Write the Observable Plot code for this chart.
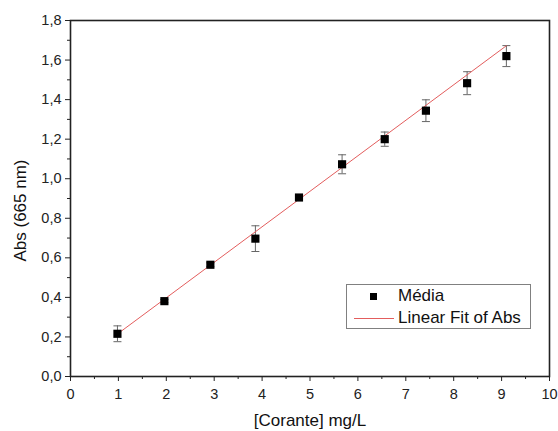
<!DOCTYPE html>
<html>
<head>
<meta charset="utf-8">
<script src="https://cdn.jsdelivr.net/npm/d3@7"></script>
<script src="https://cdn.jsdelivr.net/npm/@observablehq/plot@0.6"></script>
<style>
  body { margin: 0; background: #fff; }
  #wrap { position: relative; width: 558px; height: 431px; font-family: "Liberation Sans", Arial, sans-serif; }
  #legend { position: absolute; left: 346px; top: 284px; width: 183px; height: 43px; border: 1px solid #808080; background: #fff; }
  #legend .sq { position: absolute; left: 23px; top: 8px; width: 7px; height: 7px; background: #000; }
  #legend .ln { position: absolute; left: 7px; top: 33px; width: 40px; height: 0; border-top: 1px solid #e35d5d; }
  #legend .t { position: absolute; left: 51px; font-size: 17px; color: #111; line-height: 20px; white-space: nowrap; }
</style>
</head>
<body>
<div id="wrap">
  <div id="chart"></div>
  <div id="legend">
    <div class="sq"></div><div class="t" style="top:1px">Média</div>
    <div class="ln"></div><div class="t" style="top:23px">Linear Fit of Abs</div>
  </div>
</div>
<script>
const conc = [0.98, 1.96, 2.92, 3.86, 4.77, 5.67, 6.56, 7.42, 8.28, 9.10];
const absMean = [0.216, 0.381, 0.565, 0.697, 0.905, 1.073, 1.200, 1.344, 1.483, 1.620];
const absErr = [0.040, 0.008, 0.010, 0.065, 0.008, 0.048, 0.036, 0.055, 0.058, 0.053];
const fitSlope = 0.1795;
const fitIntercept = 0.039;
const fitRange = [0.98, 9.10];
const xTicks = [0, 1, 2, 3, 4, 5, 6, 7, 8, 9, 10];
const xMinorTicks = [0.5, 1.5, 2.5, 3.5, 4.5, 5.5, 6.5, 7.5, 8.5, 9.5];
const yTicks = [0, 0.2, 0.4, 0.6, 0.8, 1.0, 1.2, 1.4, 1.6, 1.8];
const yMinorTicks = [0.1, 0.3, 0.5, 0.7, 0.9, 1.1, 1.3, 1.5, 1.7];

const data = conc.map((x, i) => ({x, y: absMean[i], lo: absMean[i] - absErr[i], hi: absMean[i] + absErr[i]}));
const fmt = d => d.toFixed(1).replace(".", ",");
const fmtX = d => String(d);
const capSymbol = {draw(ctx, size) { const w = Math.sqrt(size / Math.PI); ctx.moveTo(-w, 0); ctx.lineTo(w, 0); }};

const chart = Plot.plot({
  width: 558,
  height: 431,
  marginLeft: 70,
  marginRight: 9,
  marginTop: 20,
  marginBottom: 55,
  style: {fontFamily: "'Liberation Sans', Arial, sans-serif", color: "#222", background: "#fff"},
  x: {domain: [0, 10]},
  y: {domain: [0, 1.8]},
  marks: [
    Plot.axisX(xTicks, {tickSize: 5, tickPadding: 7, tickFormat: fmtX, fontSize: 14.5, label: null, stroke: "#222"}),
    Plot.axisX(xMinorTicks, {tickSize: 3, tickFormat: () => "", label: null, stroke: "#222"}),
    Plot.axisY(yTicks, {tickSize: 5, tickPadding: 4, tickFormat: fmt, fontSize: 14.5, label: null, stroke: "#222"}),
    Plot.axisY(yMinorTicks, {tickSize: 3, tickFormat: () => "", label: null, stroke: "#222"}),
    Plot.text(["[Corante] mg/L"], {frameAnchor: "bottom", dy: 49, fontSize: 17, fill: "#111"}),
    Plot.text(["Abs (665 nm)"], {frameAnchor: "left", textAnchor: "middle", dx: -50, dy: 12, rotate: -90, fontSize: 17, fill: "#111"}),
    Plot.ruleX(data, {x: "x", y1: "lo", y2: "hi", stroke: "#666", strokeWidth: 1}),
    Plot.dot(data, {x: "x", y: "hi", symbol: capSymbol, r: 4, stroke: "#666", fill: "none", strokeWidth: 1}),
    Plot.dot(data, {x: "x", y: "lo", symbol: capSymbol, r: 4, stroke: "#666", fill: "none", strokeWidth: 1}),
    Plot.line(fitRange, {x: d => d, y: d => fitIntercept + fitSlope * d, stroke: "#e35d5d", strokeWidth: 1}),
    Plot.dot(data, {x: "x", y: "y", symbol: "square", r: 4.6, fill: "#000", stroke: "none"}),
    Plot.frame({stroke: "#222", strokeWidth: 1.6})
  ]
});
document.getElementById("chart").appendChild(chart);
</script>
</body>
</html>
